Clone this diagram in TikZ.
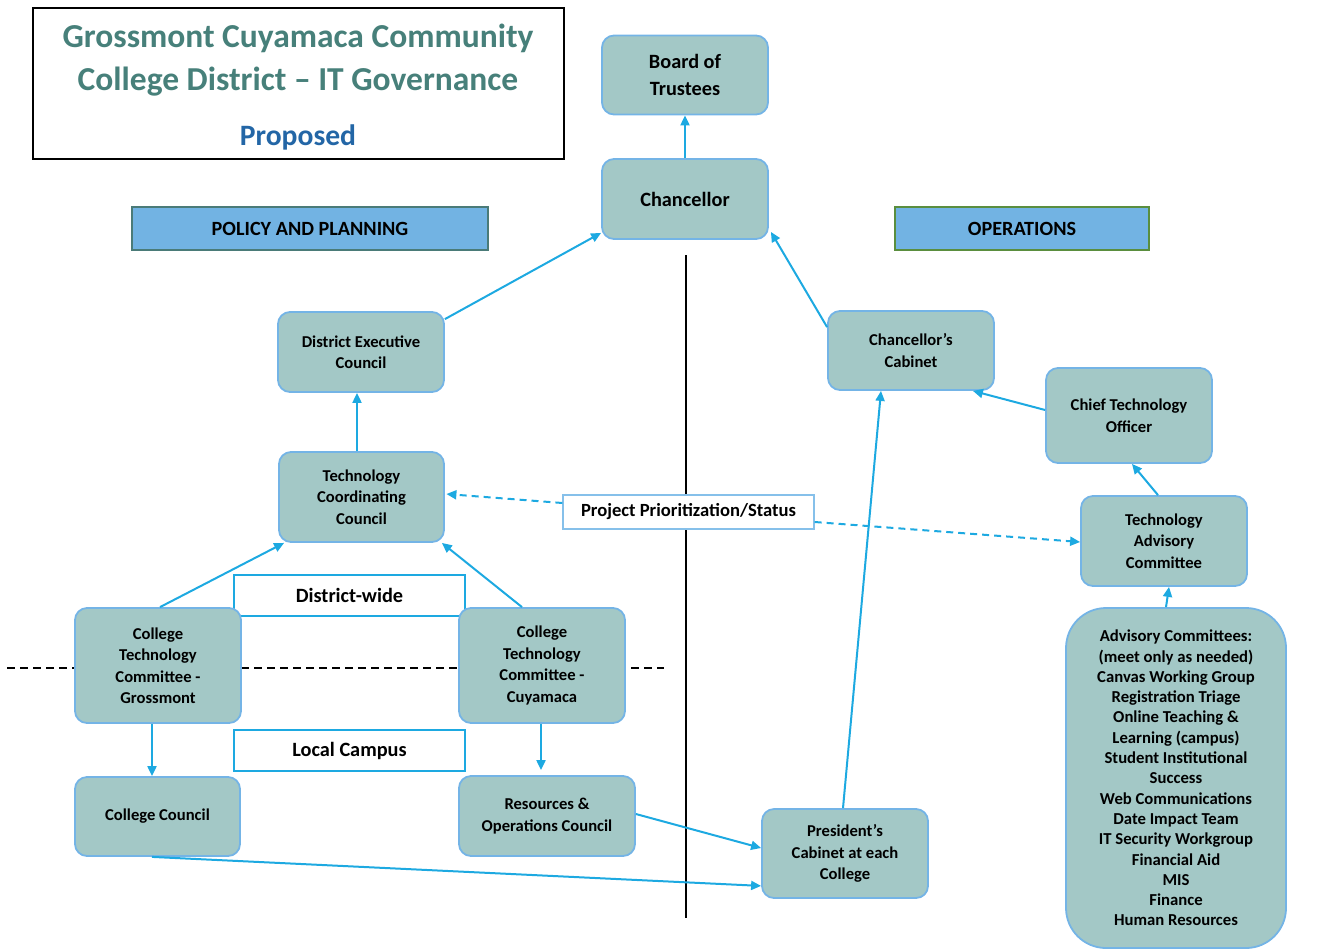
\documentclass[tikz,border=0pt]{standalone}
\usepackage{fontspec}
\setmainfont{Carlito}
\usetikzlibrary{arrows.meta,calc}
\definecolor{boxfill}{HTML}{A3C8C6}
\definecolor{boxline}{HTML}{74B4E6}
\definecolor{arrc}{HTML}{1DA9E1}
\definecolor{titlec}{HTML}{47807A}
\definecolor{propc}{HTML}{2366A6}
\definecolor{hdrfill}{HTML}{72B3E3}
\definecolor{hdrlineA}{HTML}{4A7B78}
\definecolor{hdrlineB}{HTML}{5A8E3E}
\definecolor{projline}{HTML}{86C0EA}
\tikzset{
  orgbox/.style={draw=boxline, line width=1.8pt, fill=boxfill, rounded corners=12pt,
    align=center, inner sep=0pt, font=\bfseries\fontsize{16.6}{21.5}\selectfont},
  bigbox/.style={orgbox, font=\bfseries\fontsize{20.3}{27}\selectfont},
  hdrbox/.style={draw, line width=1.6pt, fill=hdrfill, inner sep=0pt,
    font=\bfseries\fontsize{20.2}{24}\selectfont},
  labbox/.style={draw=arrc, line width=1.6pt, fill=white, inner sep=0pt,
    font=\bfseries\fontsize{20.3}{24}\selectfont},
  conn/.style={draw=arrc, line width=2pt, -{Triangle[length=10pt,width=9pt]}},
  dconn/.style={conn, dash pattern=on 7pt off 5pt},
  titletext/.style={font=\bfseries\fontsize{33.5}{40}\selectfont, text=titlec, inner sep=0pt}
}
\begin{document}
\begin{tikzpicture}[x=1pt,y=-1pt]
\useasboundingbox (0,0) rectangle (1319,951);
% background lines
\draw[black, line width=2.8pt] (686,255) -- (686,918);
\draw[black, line width=1.6pt, dash pattern=on 8pt off 5pt] (7,668) -- (664,668);
% title
\node[draw=black, line width=2pt, minimum width=531, minimum height=151, inner sep=0pt] (title) at (298.5,83.5) {};
\node[titletext] (t1) at (298,38) {Grossmont Cuyamaca Community};
\node[titletext] (t2) at (298,82) {College District -- IT Governance};
\node[titletext, text=propc, font=\bfseries\fontsize{29.6}{34}\selectfont] (t3) at (298,137.5) {Proposed};
% headers
\node[hdrbox, draw=hdrlineA, minimum width=356, minimum height=43] (pp) at (310,228.5) {POLICY AND PLANNING};
\node[hdrbox, draw=hdrlineB, minimum width=254, minimum height=43] (ops) at (1022,228.5) {OPERATIONS};
% boxes
\node[bigbox, minimum width=166, minimum height=79] (bot) at (685,75) {Board of\\Trustees};
\node[bigbox, minimum width=166, minimum height=80] (chan) at (685,199) {Chancellor};
\node[orgbox, minimum width=166, minimum height=80] (dec) at (361,352) {District Executive\\Council};
\node[orgbox, minimum width=166, minimum height=79] (cab) at (911,350.5) {Chancellor’s\\Cabinet};
\node[orgbox, minimum width=166, minimum height=95] (cto) at (1129,415.5) {Chief Technology\\Officer};
\node[orgbox, minimum width=165, minimum height=90] (tcc) at (361.5,497) {Technology\\Coordinating\\Council};
\node[draw=projline, line width=1.2pt, fill=white, inner sep=0pt, minimum width=251, minimum height=34,
  font=\bfseries\fontsize{18.6}{22}\selectfont] (proj) at (688.5,512) {Project Prioritization/Status};
\node[orgbox, minimum width=166, minimum height=90] (tac) at (1164,541) {Technology\\Advisory\\Committee};
\node[labbox, minimum width=231, minimum height=41] (dw) at (349.5,595.5) {District-wide};
\node[orgbox, minimum width=166, minimum height=115] (ctcg) at (158,665.5) {College\\Technology\\Committee -\\Grossmont};
\node[orgbox, minimum width=166, minimum height=115] (ctcc) at (542,665.5) {College\\Technology\\Committee -\\Cuyamaca};
\node[labbox, minimum width=231, minimum height=41] (lc) at (349.5,750.5) {Local Campus};
\node[orgbox, minimum width=165, minimum height=79] (cc) at (157.5,816.5) {College Council};
\node[orgbox, minimum width=176, minimum height=80] (res) at (547,816) {Resources \&\\Operations Council};
\node[orgbox, minimum width=166, minimum height=89] (pres) at (845,853.5) {President’s\\Cabinet at each\\College};
\node[orgbox, rounded corners=40pt, minimum width=220, minimum height=340,
  font=\bfseries\fontsize{16.7}{20.3}\selectfont] (adv) at (1176,778)
  {Advisory Committees:\\(meet only as needed)\\Canvas Working Group\\Registration Triage\\Online Teaching \&\\Learning (campus)\\Student Institutional\\Success\\Web Communications\\Date Impact Team\\IT Security Workgroup\\Financial Aid\\MIS\\Finance\\Human Resources};
% connectors
\draw[conn] (chan.north) -- (bot.south);
\draw[conn] ($(dec.north east)+(0,8)$) -- ($(chan.south west)+(0,-7)$);
\draw[conn] ($(cab.north west)+(0,17)$) -- ($(chan.south east)+(2,-8)$);
\draw[conn] ($(cto.west)+(0,-5.5)$) -- ($(cab.south east)+(-22,0)$);
\draw[conn] ($(tac.north)+(-6,0)$) -- ($(cto.south)+(3,0)$);
\draw[conn] ($(adv.north)+(-10,0)$) -- ($(tac.south)+(5,0)$);
\draw[conn] ($(tcc.north)+(-4.5,0)$) -- ($(dec.south)+(-4,0)$);
\draw[conn] ($(ctcg.north)+(2,0)$) -- ($(tcc.south west)+(6,0)$);
\draw[conn] ($(ctcc.north)+(-20,0)$) -- ($(tcc.south east)+(-3,0)$);
\draw[conn] ($(ctcg.south)+(-6,0)$) -- ($(cc.north)+(-5.5,0)$);
\draw[conn] ($(ctcc.south)+(-1,0)$) -- ($(res.north)+(-6,-5)$);
\draw[conn] ($(res.east)+(0,-2)$) -- ($(pres.west)+(0,-5.5)$);
\draw[conn] ($(cc.south)+(-5.5,0)$) -- ($(pres.south west)+(0,-13)$);
\draw[conn] ($(pres.north)+(-2,0)$) -- ($(cab.south)+(-30,0)$);
\draw[dconn] ($(proj.west)+(0,-9)$) -- ($(tcc.east)+(1.5,-3)$);
\draw[dconn] ($(proj.east)+(0,10)$) -- ($(tac.west)+(0,1)$);
\end{tikzpicture}
\end{document}
